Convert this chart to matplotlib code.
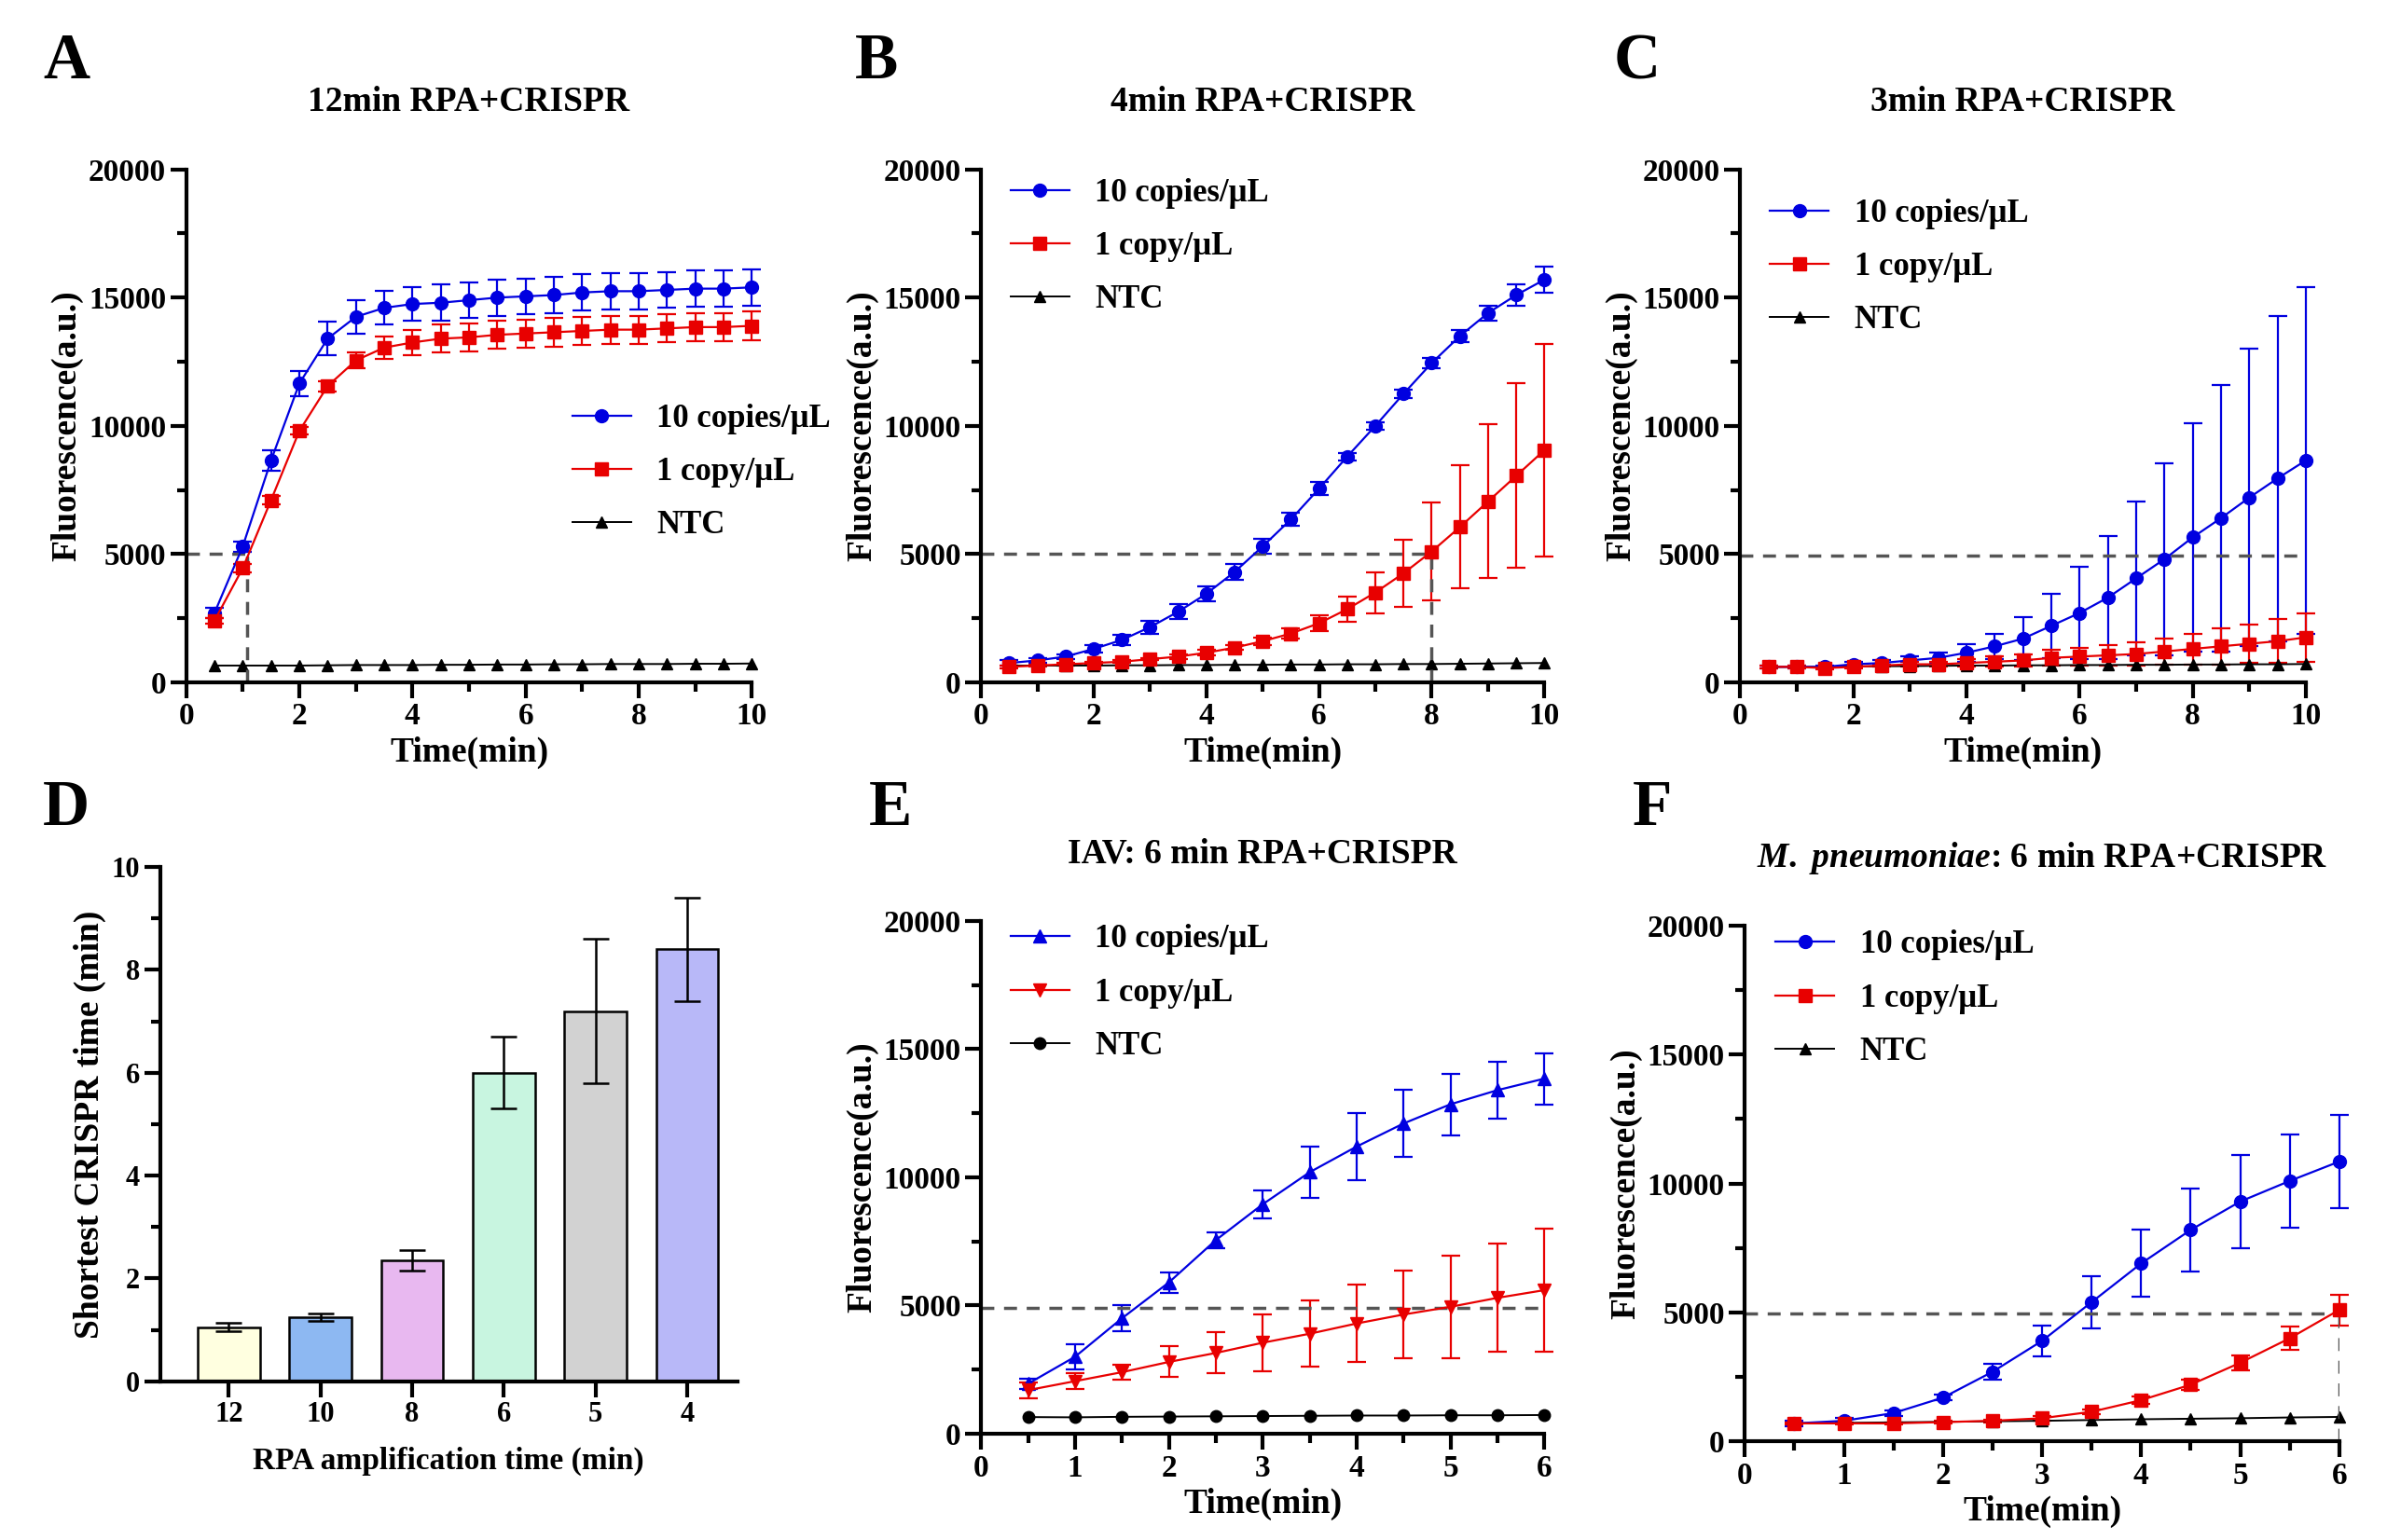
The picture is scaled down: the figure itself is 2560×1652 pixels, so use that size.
import matplotlib
matplotlib.use("Agg")
import matplotlib.pyplot as plt
import numpy as np
from matplotlib.ticker import MultipleLocator
from matplotlib.lines import Line2D

plt.rcParams['font.family'] = ['Liberation Serif', 'DejaVu Serif']
plt.rcParams['font.weight'] = 'bold'
plt.rcParams['mathtext.fontset'] = 'custom'
plt.rcParams['mathtext.it'] = 'Liberation Serif:italic:bold'
plt.rcParams['mathtext.rm'] = 'Liberation Serif:bold'

t10 = np.arange(1, 21) * 0.5
t6 = np.arange(1, 13) * 0.5

A_hi = [2700,5300,8650,11650,13400,14250,14600,14750,14800,14900,15000,15050,15100,15200,15250,15250,15300,15350,15350,15400]
A_hi_e = [200,200,400,500,650,650,650,650,700,700,700,700,700,700,700,700,700,700,700,700]
A_lo = [2400,4450,7100,9800,11550,12550,13050,13250,13400,13450,13550,13600,13650,13700,13750,13750,13800,13850,13850,13900]
A_lo_e = [100,150,150,150,200,300,450,500,550,550,550,550,550,550,550,550,550,550,550,550]
A_ntc = [650,650,650,650,660,670,670,670,680,680,690,690,700,700,710,710,710,720,720,730]

B_hi = [750,850,1000,1300,1650,2150,2750,3450,4300,5300,6350,7550,8800,10000,11250,12450,13500,14400,15100,15700]
B_hi_e = [100,100,100,150,200,250,300,300,300,300,250,250,150,150,150,200,250,300,400,500]
B_lo = [600,650,700,750,800,900,1000,1150,1350,1600,1900,2300,2850,3500,4250,5100,6050,7050,8050,9050]
B_lo_e = [50,50,50,50,50,50,100,100,100,150,200,300,500,800,1300,1900,2400,3000,3600,4150]
B_ntc = [650,650,650,650,660,660,670,670,680,680,690,690,700,700,710,710,720,730,740,750]

C_hi = [600,600,600,700,750,850,950,1150,1400,1700,2200,2700,3300,4050,4800,5650,6400,7200,7950,8650]
C_hi_e = [50,50,50,80,100,150,200,350,500,850,1250,1800,2400,3000,3750,4450,5200,5800,6350,6750]
C_lo = [600,600,550,600,650,700,700,750,800,850,950,1000,1050,1100,1200,1300,1400,1500,1600,1750]
C_lo_e = [50,50,50,50,50,80,100,150,200,250,300,350,400,450,500,600,700,750,850,950]
C_ntc = [600,600,600,620,620,630,640,650,650,660,660,670,670,680,680,690,690,700,700,710]

D_cats = ['12','10','8','6','5','4']
D_vals = [1.05,1.25,2.35,6.0,7.2,8.4]
D_err = [0.08,0.07,0.2,0.7,1.4,1.0]
D_colors = ['#FFFFE0','#8DB8F2','#E8B8F0','#C8F5E0','#D2D2D2','#B8B8F8']

E_hi = [1950,3000,4500,5900,7550,8950,10200,11200,12100,12850,13400,13850]
E_hi_e = [200,500,500,400,300,550,1000,1300,1300,1200,1100,1000]
E_lo = [1700,2050,2400,2800,3150,3550,3900,4300,4650,4950,5300,5600]
E_lo_e = [300,300,300,600,800,1100,1300,1500,1700,2000,2100,2400]
E_ntc = [650,640,660,670,680,690,700,710,710,720,720,730]

F_hi = [700,800,1100,1700,2700,3900,5400,6900,8200,9300,10100,10850]
F_hi_e = [100,100,100,100,300,600,1000,1300,1600,1800,1800,1800]
F_lo = [700,700,700,750,800,900,1150,1600,2200,3050,4000,5100]
F_lo_e = [50,50,50,50,50,100,100,150,200,300,450,600]
F_ntc = [700,720,740,760,780,800,830,860,880,900,930,950]

fig = plt.figure(figsize=(25.6, 16.52), dpi=100)
LW = 3.0
BLUE = '#0000E0'
RED = '#E80000'
TICK = 24
LAB = 27

def style(ax, xmax, xmaj=2, xminor=1):
    for s in ['top', 'right']:
        ax.spines[s].set_visible(False)
    for s in ['left', 'bottom']:
        ax.spines[s].set_linewidth(LW)
    ax.set_xlim(0, xmax)
    ax.set_ylim(0, 20000)
    ax.xaxis.set_major_locator(MultipleLocator(xmaj))
    ax.xaxis.set_minor_locator(MultipleLocator(xminor))
    ax.yaxis.set_major_locator(MultipleLocator(5000))
    ax.yaxis.set_minor_locator(MultipleLocator(2500))
    ax.tick_params(which='major', width=LW, length=12, labelsize=TICK)
    ax.tick_params(which='minor', width=LW, length=7)

def series(ax, t, y, e, color, marker, ms=10):
    ax.errorbar(t, y, yerr=e, color=color, marker=marker, ms=ms, lw=1.6,
                elinewidth=1.6, capsize=7, capthick=1.6, clip_on=False)

def line_panel(rect, t, hi, hie, lo, loe, ntc, title, xmax, markers, legloc, dash, xmaj=2, xminor=1):
    ax = fig.add_axes(rect)
    series(ax, t, hi, hie, BLUE, markers[0])
    series(ax, t, lo, loe, RED, markers[1])
    ax.plot(t, ntc, color='black', marker=markers[2], ms=9, lw=1.4, clip_on=False)
    style(ax, xmax, xmaj, xminor)
    ax.set_xlabel('Time(min)', fontsize=LAB, fontweight='bold')
    ax.set_ylabel('Fluorescence(a.u.)', fontsize=LAB, fontweight='bold')
    ax.set_title(title, fontsize=LAB, fontweight='bold', pad=45)
    hx, hy, vx = dash
    ax.plot([0, hx], [hy, hy], color='#555555', lw=2.5, dashes=(4, 3))
    if vx is not None:
        ax.plot([vx, vx], [0, hy], color='#555555', lw=2.5, dashes=(4, 3))
    handles = [Line2D([], [], color=BLUE, marker=markers[0], ms=10, lw=1.6),
               Line2D([], [], color=RED, marker=markers[1], ms=10, lw=1.6),
               Line2D([], [], color='black', marker=markers[2], ms=9, lw=1.4)]
    ax.legend(handles, ['10 copies/μL', '1 copy/μL', 'NTC'], loc=legloc, frameon=False,
              handlelength=1.8, labelspacing=0.7, prop={'weight': 'bold', 'size': 25})
    return ax

line_panel([0.078, 0.557, 0.237, 0.333], t10, A_hi, A_hi_e, A_lo, A_lo_e, A_ntc,
           '12min RPA+CRISPR', 10, ['o', 's', '^'], (0.66, 0.25), (1.08, 5000, 1.08))
line_panel([0.411, 0.557, 0.236, 0.333], t10, B_hi, B_hi_e, B_lo, B_lo_e, B_ntc,
           '4min RPA+CRISPR', 10, ['o', 's', '^'], (0.03, 0.69), (8, 5000, 8))
line_panel([0.729, 0.557, 0.237, 0.333], t10, C_hi, C_hi_e, C_lo, C_lo_e, C_ntc,
           '3min RPA+CRISPR', 10, ['o', 's', '^'], (0.03, 0.65), (10, 4950, None))
line_panel([0.411, 0.069, 0.236, 0.333], t6, E_hi, E_hi_e, E_lo, E_lo_e, E_ntc,
           'IAV: 6 min RPA+CRISPR', 6, ['^', 'v', 'o'], (0.03, 0.70), (6, 4900, None), 1, 0.5)
line_panel([0.731, 0.064, 0.249, 0.335], t6, F_hi, F_hi_e, F_lo, F_lo_e, F_ntc,
           r'$\it{M.}$ $\it{pneumoniae}$: 6 min RPA+CRISPR', 6, ['o', 's', '^'], (0.03, 0.70), (6, 4950, 6), 1, 0.5)

axD = fig.add_axes([0.067, 0.103, 0.242, 0.334])
xpos = np.arange(len(D_cats))
axD.bar(xpos, D_vals, width=0.68, color=D_colors, edgecolor='black', linewidth=1.8)
axD.errorbar(xpos, D_vals, yerr=D_err, fmt='none', ecolor='black', elinewidth=1.8, capsize=10, capthick=1.8)
for s in ['top', 'right']:
    axD.spines[s].set_visible(False)
for s in ['left', 'bottom']:
    axD.spines[s].set_linewidth(LW)
axD.set_xlim(-0.75, 5.55)
axD.set_ylim(0, 10)
axD.set_xticks(xpos)
axD.set_xticklabels(D_cats)
axD.yaxis.set_major_locator(MultipleLocator(2))
axD.yaxis.set_minor_locator(MultipleLocator(1))
axD.tick_params(which='major', width=LW, length=12, labelsize=TICK - 2)
axD.tick_params(which='minor', width=LW, length=7)
axD.set_xlabel('RPA amplification time (min)', fontsize=24, fontweight='bold', labelpad=14)
axD.set_ylabel('Shortest CRISPR time (min)', fontsize=LAB, fontweight='bold')

for letter, x, y in [('A', 0.018, 0.94), ('B', 0.358, 0.94), ('C', 0.676, 0.94),
                     ('D', 0.018, 0.455), ('E', 0.364, 0.455), ('F', 0.684, 0.455)]:
    fig.text(x, y, letter, fontsize=50, fontweight='bold', ha='left', va='bottom')

fig.savefig('out.png', dpi=100)
